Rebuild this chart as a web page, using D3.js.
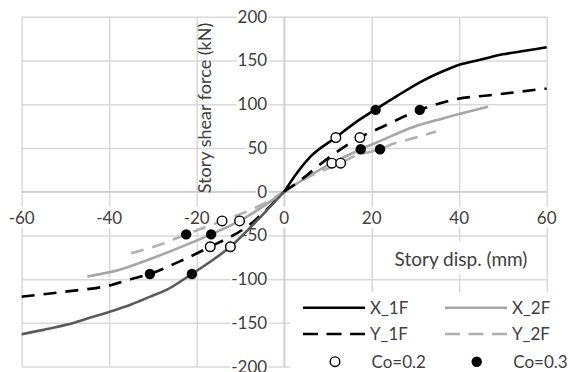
<!DOCTYPE html>
<html>
<head>
<meta charset="utf-8">
<script src="https://cdn.jsdelivr.net/npm/d3@7"></script>
<style>
  body{margin:0;background:#fff}
  text{font-family:Lato,"Open Sans",sans-serif;fill:#404040}
</style>
</head>
<body>
<svg id="chart" width="570" height="372"></svg>
<script>
// tick values
const xTicks = [-60,-40,-20,0,20,40,60]
const yTicks = [200,150,100,50,0,-50,-100,-150,-200]

// curves, [disp mm, shear kN]
const x1fNeg = [[-60,-163],[-55,-158],[-49.6,-152],[-45,-145],[-39.7,-137],[-35,-129],[-30.6,-120],[-26.8,-112],[-21.1,-94],[-16,-77],[-12.3,-63],[-6,-32],[-3.2,-17],[0,0]]
const x1fPos = [[0,0],[3,22],[6,40],[11.8,62],[16,78],[20.9,94],[26,110],[31,125],[36,137],[40,145],[45,151],[50,157],[55,161],[60,165]]
const y1fNeg = [[-60,-120],[-49.6,-114],[-39.7,-107],[-35,-100],[-30.7,-94],[-24,-80],[-16.9,-63],[-8.5,-40],[0,0]]
const y1fPos = [[0,0],[3.7,13],[10.5,40],[17.3,62],[22,73],[31,93.5],[38.6,105],[48.5,111],[60,118]]
const x2fNeg = [[-45,-97],[-37.4,-89],[-30.6,-77],[-22,-60],[-16.7,-48.8],[-10.2,-33.5],[-7,-24],[0,0]]
const x2fPos = [[0,0],[6.7,21],[10.9,32.5],[17.5,48.5],[22,58],[29.5,74],[36.5,84],[46.6,97]]
const y2fNeg = [[-35,-70.5],[-28,-60],[-22.4,-48.8],[-14.2,-33.5],[-6,-17],[0,0]]
const y2fPos = [[0,0],[6,18],[12.9,32.5],[15.8,40],[21.9,48.5],[25,55],[28,59],[34.7,68.7]]

// design points
const co02 = [[11.8,61.8],[17.3,61.8],[10.9,32.5],[12.9,32.5],[-12.3,-63],[-16.9,-63],[-10.2,-33.5],[-14.2,-33.5]]
const co03 = [[20.9,93.5],[31,93.5],[17.5,48.5],[21.9,48.5],[-21.1,-94.2],[-30.7,-94.2],[-16.7,-48.8],[-22.4,-48.8]]

const svg = d3.select("#chart")
const x = d3.scaleLinear().domain([-60,60]).range([21.7,546.7])
const y = d3.scaleLinear().domain([-200,200]).range([366.6,16.7])
const W = x(60)-x(-60), H = y(-200)-y(200)

svg.append("rect").attr("width",570).attr("height",372).attr("fill","#fff")

// gridlines
svg.append("g").attr("class","grid")
  .attr("transform",`translate(0,${y(-200)})`)
  .call(d3.axisBottom(x).tickValues(xTicks).tickSize(-H).tickFormat(""))
svg.append("g").attr("class","grid")
  .attr("transform",`translate(${x(-60)},0)`)
  .call(d3.axisLeft(y).tickValues(yTicks).tickSize(-W).tickFormat(""))
svg.selectAll(".grid .domain").remove()
svg.selectAll(".grid line").attr("stroke","#d9d9d9").attr("stroke-width",1.5)

// zero axes
svg.append("line").attr("x1",x(-60)).attr("x2",x(60)).attr("y1",y(0)).attr("y2",y(0))
  .attr("stroke","#cfcfcf").attr("stroke-width",1.5)
svg.append("line").attr("x1",x(0)).attr("x2",x(0)).attr("y1",y(200)).attr("y2",y(-200))
  .attr("stroke","#cfcfcf").attr("stroke-width",1.5)

function boxed(g,padX,padY){
  g.each(function(){
    let b = this.getBBox()
    d3.select(this.parentNode).insert("rect",()=>this)
      .attr("x",b.x-padX).attr("y",b.y-padY)
      .attr("width",b.width+padX*2).attr("height",b.height+padY*2)
      .attr("fill","#fff")
  })
}

let labels = svg.append("g")
labels.selectAll(".yl").data(yTicks).join("text").attr("class","yl")
  .attr("x",x(0)-17).attr("y",d=>y(d)).attr("dy","0.35em")
  .attr("text-anchor","end").attr("font-size",17).text(d=>d)
labels.selectAll(".xl").data(xTicks).join("text").attr("class","xl")
  .attr("x",d=>x(d)).attr("y",y(0)+26).attr("dy","0.35em")
  .attr("text-anchor","middle").attr("font-size",17).text(d=>d)
boxed(labels.selectAll("text"),1,0)

let titles = svg.append("g")
titles.append("text")
  .attr("transform",`translate(205,108) rotate(-90)`)
  .attr("text-anchor","middle").attr("dy","0.35em").attr("font-size",18)
  .text("Story shear force (kN)")
titles.append("text")
  .attr("x",461).attr("y",259).attr("dy","0.35em")
  .attr("text-anchor","middle").attr("font-size",19)
  .text("Story disp. (mm)")
boxed(titles.selectAll("text"),5,5)

// series
const line = d3.line().x(d=>x(d[0])).y(d=>y(d[1])).curve(d3.curveMonotoneX)
const series = [
  {data:x2fNeg,color:"#a6a6a6",dash:null},
  {data:x2fPos,color:"#a6a6a6",dash:null},
  {data:y2fNeg,color:"#b0b0b0",dash:"13,9"},
  {data:y2fPos,color:"#b0b0b0",dash:"13,9"},
  {data:y1fNeg,color:"#000",dash:"13,9"},
  {data:y1fPos,color:"#000",dash:"13,9"},
  {data:x1fNeg,color:"#5a5a5a",dash:null},
  {data:x1fPos,color:"#000",dash:null}
]
svg.append("g").selectAll("path").data(series).join("path")
  .attr("d",d=>line(d.data))
  .attr("fill","none")
  .attr("stroke",d=>d.color)
  .attr("stroke-width",2.6)
  .attr("stroke-dasharray",d=>d.dash)

svg.append("g").selectAll("circle").data(co02).join("circle")
  .attr("cx",d=>x(d[0])).attr("cy",d=>y(d[1])).attr("r",4.8)
  .attr("fill","#fff").attr("stroke","#000").attr("stroke-width",1.4)
svg.append("g").selectAll("circle").data(co03).join("circle")
  .attr("cx",d=>x(d[0])).attr("cy",d=>y(d[1])).attr("r",5.2)
  .attr("fill","#000")

// legend
const legend = svg.append("g")
legend.append("rect").attr("x",290).attr("y",292).attr("width",280).attr("height",80).attr("fill","#fff")
const legItems = [
  {name:"X_1F",color:"#000",dash:null,col:0,row:0},
  {name:"X_2F",color:"#a6a6a6",dash:null,col:1,row:0},
  {name:"Y_1F",color:"#000",dash:"15,8.5",col:0,row:1},
  {name:"Y_2F",color:"#b0b0b0",dash:"15,8.5",col:1,row:1}
]
const colX = [303,445], rowY = [307.7,334,361.7]
legItems.forEach(d=>{
  legend.append("line")
    .attr("x1",colX[d.col]).attr("x2",colX[d.col]+62)
    .attr("y1",rowY[d.row]).attr("y2",rowY[d.row])
    .attr("stroke",d.color).attr("stroke-width",2.6)
    .attr("stroke-dasharray",d.dash)
  legend.append("text").attr("x",colX[d.col]+67).attr("y",rowY[d.row]).attr("dy","0.35em")
    .attr("font-size",17).text(d.name)
})
legend.append("circle").attr("cx",335).attr("cy",rowY[2]).attr("r",4.8)
  .attr("fill","#fff").attr("stroke","#000").attr("stroke-width",1.4)
legend.append("text").attr("x",371.5).attr("y",rowY[2]).attr("dy","0.35em").attr("font-size",17).text("Co=0.2")
legend.append("circle").attr("cx",476.7).attr("cy",rowY[2]).attr("r",5.2).attr("fill","#000")
legend.append("text").attr("x",513.3).attr("y",rowY[2]).attr("dy","0.35em").attr("font-size",17).text("Co=0.3")
</script>
</body>
</html>
